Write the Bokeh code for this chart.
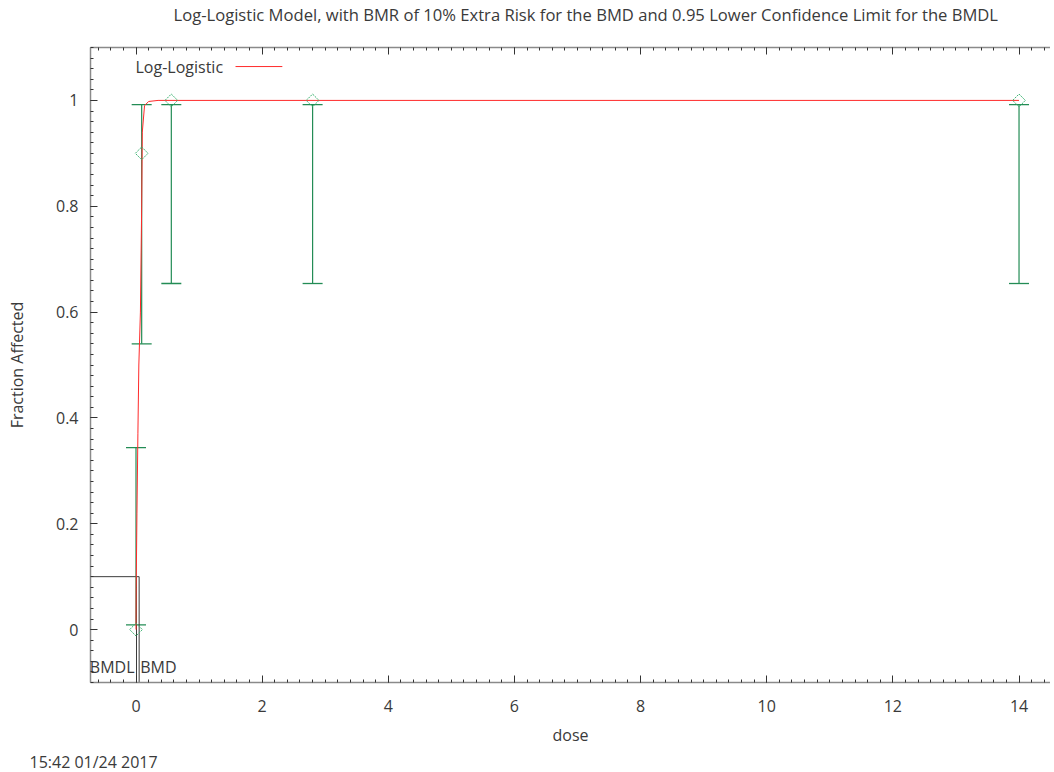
import math
from bokeh.plotting import figure
from bokeh.models import (Range1d, LinearAxis, Title, Label, Whisker, ColumnDataSource,
                          SingleIntervalTicker, TeeHead)
from bokeh.core.properties import value
from bokeh.embed import file_html
from bokeh.resources import INLINE

# ---- data ----
doses = [0.0, 0.09, 0.56, 2.8, 14.0]
frac = [0.0, 0.9, 1.0, 1.0, 1.0]
lower = [0.009, 0.54, 0.654, 0.654, 0.654]
upper = [0.344, 0.992, 0.992, 0.992, 0.992]

curve_dose = [0.0, 0.003, 0.015, 0.03, 0.045, 0.07, 0.09, 0.1, 0.135, 0.2, 0.35, 14.0]
curve_frac = [0.0, 0.08, 0.22, 0.37, 0.50, 0.60, 0.80, 0.94, 0.99, 0.998, 1.0, 1.0]

bmr = 0.1
bmd = 0.05
bmdl = 0.008

title_text = "Log-Logistic Model, with BMR of 10% Extra Risk for the BMD and 0.95 Lower Confidence Limit for the BMDL"
stamp_text = "15:42 01/24 2017"
legend_text = "Log-Logistic"

FONT = "Open Sans"
FS = "16px"
TXT = "#3a3a3a"
GREEN = "#238c55"
RED = "#ff2a2a"

p = figure(width=1050, height=772, output_backend="svg", toolbar_location=None,
           x_range=Range1d(-0.7214, 14.499), y_range=Range1d(-0.1, 1.1),
           x_axis_location=None, y_axis_location=None,
           min_border_left=90, min_border_right=0, min_border_top=47, min_border_bottom=90)
p.outline_line_color = None
p.xgrid.visible = False
p.ygrid.visible = False
p.background_fill_color = "white"
p.border_fill_color = "white"


def style(ax, show_labels=True):
    ax.axis_line_color = "#8a8a8a"
    ax.axis_line_width = 1.5
    ax.major_tick_in = 7
    ax.major_tick_out = 0
    ax.minor_tick_in = 3
    ax.minor_tick_out = 0
    ax.major_tick_line_color = "#333333"
    ax.minor_tick_line_color = "#333333"
    ax.major_label_text_font = FONT
    ax.major_label_text_font_size = FS
    ax.major_label_text_color = TXT
    ax.axis_label_text_font = FONT
    ax.axis_label_text_font_size = FS
    ax.axis_label_text_font_style = "normal"
    ax.axis_label_text_color = TXT
    if not show_labels:
        ax.major_label_text_font_size = "0px"


xb = LinearAxis(ticker=SingleIntervalTicker(interval=2, num_minor_ticks=10), axis_label="dose")
style(xb)
xb.major_label_standoff = 17
xb.axis_label_standoff = 9
p.add_layout(xb, "below")

# top axis: ticks only; a blank 1px axis label reserves the gap between frame and title
xt = LinearAxis(ticker=SingleIntervalTicker(interval=2, num_minor_ticks=10), axis_label=" ")
style(xt, show_labels=False)
xt.axis_label_text_font_size = "1px"
xt.axis_label_standoff = 18
p.add_layout(xt, "above")

yl = LinearAxis(ticker=SingleIntervalTicker(interval=0.2, num_minor_ticks=10), axis_label="Fraction Affected")
style(yl)
yl.major_label_standoff = 12
yl.axis_label_standoff = 25
p.add_layout(yl, "left")

# titles
p.title.text = title_text
p.title.align = "left"
p.title.offset = 83
p.title.standoff = 0
p.title.text_font = FONT
p.title.text_font_size = "16.6px"
p.title.text_font_style = "normal"
p.title.text_color = TXT

p.add_layout(Title(text=stamp_text, align="left", offset=-61, standoff=0, text_font=FONT,
                   text_font_size=FS, text_font_style="normal", text_color=TXT), "below")

# BMD / BMDL lines
x0 = p.x_range.start
p.line([x0, bmd], [bmr, bmr], line_color="#3c3c3c", line_width=1)
p.line([bmd, bmd], [bmr, -0.1], line_color="#3c3c3c", line_width=1)
p.line([bmdl, bmdl], [bmr, -0.1], line_color="#3c3c3c", line_width=1)
p.text(x=[bmdl], y=[-0.07], text=["BMDL"], text_align="right", text_baseline="middle",
       text_font=value(FONT), text_font_size=FS, text_color=TXT, x_offset=-2)
p.text(x=[bmd], y=[-0.07], text=["BMD"], text_align="left", text_baseline="middle",
       text_font=value(FONT), text_font_size=FS, text_color=TXT, x_offset=1)

# error bars
src = ColumnDataSource(dict(dose=doses, frac=frac, lower=lower, upper=upper))
p.segment(x0="dose", y0="lower", x1="dose", y1="upper", source=src, line_color=GREEN, line_width=1.2)
wh = Whisker(base="dose", lower="lower", upper="upper", source=src, dimension="height",
             line_alpha=0,
             upper_head=TeeHead(size=20, line_color=GREEN, line_width=1.3),
             lower_head=TeeHead(size=20, line_color=GREEN, line_width=1.3))
p.add_layout(wh)

# model curve
p.line(curve_dose, curve_frac, line_color=RED, line_width=1)

# observed points
p.scatter(x="dose", y="frac", source=src, marker="square", angle=math.pi / 4, size=9,
          fill_color=None, line_color="#3cb371", line_width=1, line_dash="2 1")

# legend
p.add_layout(Label(x=45, y=616, x_units="screen", y_units="screen", text=legend_text,
                   text_font=FONT, text_font_size=FS, text_color=TXT,
                   text_baseline="middle"))
p.segment(x0=[1.578], y0=[1.064], x1=[2.32], y1=[1.064], line_color=RED, line_width=1)

open("out.html", "w").write(file_html(p, INLINE))
